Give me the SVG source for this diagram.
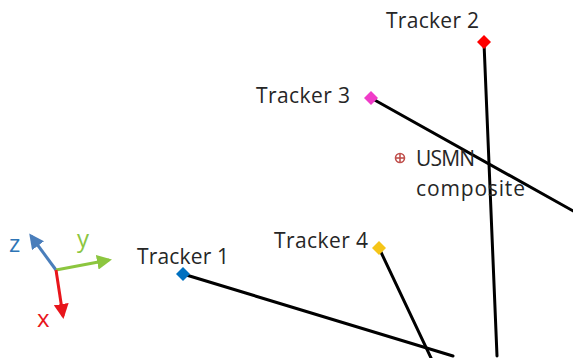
<svg xmlns="http://www.w3.org/2000/svg" width="573" height="358" viewBox="0 0 573 358">
  <style>
    .lbl { font-family: "Open Sans", "DejaVu Sans", "Liberation Sans", sans-serif; font-size: 21px; fill: #262626; }
    .ray { stroke: #000; stroke-width: 3; fill: none; stroke-linecap: round; }
    .axl { font-family: "Open Sans", "Liberation Sans", "DejaVu Sans", sans-serif; font-size: 24px; }
  </style>
  <defs>
    <marker id="ahBlue" viewBox="0 0 10 10" refX="8" refY="5" markerWidth="5" markerHeight="5" orient="auto">
      <path d="M0,0 L10,5 L0,10 Z" fill="#4a7ebb"/>
    </marker>
    <marker id="ahGreen" viewBox="0 0 10 10" refX="8" refY="5" markerWidth="5" markerHeight="5" orient="auto">
      <path d="M0,0 L10,5 L0,10 Z" fill="#8cc63f"/>
    </marker>
    <marker id="ahRed" viewBox="0 0 10 10" refX="8" refY="5" markerWidth="5" markerHeight="5" orient="auto">
      <path d="M0,0 L10,5 L0,10 Z" fill="#e8151b"/>
    </marker>
  </defs>
  <rect width="573" height="358" fill="#fff"/>

  <!-- coordinate frame -->
  <g id="axes">
    <line x1="56" y1="270" x2="31" y2="236" stroke="#4a7ebb" stroke-width="3" marker-end="url(#ahBlue)"/>
    <line x1="56" y1="270" x2="109" y2="260" stroke="#8cc63f" stroke-width="3" marker-end="url(#ahGreen)"/>
    <line x1="56" y1="270" x2="63" y2="316" stroke="#e8151b" stroke-width="3" marker-end="url(#ahRed)"/>
    <text class="axl" x="9" y="252" fill="#2e75b6">z</text>
    <text class="axl" x="77" y="247" fill="#8cc63f">y</text>
    <text class="axl" x="37" y="327" fill="#e8151b">x</text>
  </g>

  <!-- sight lines -->
  <g id="connectors">
    <line class="ray" x1="183" y1="274" x2="453" y2="356"/>
    <line class="ray" x1="484" y1="43" x2="497" y2="356"/>
    <line class="ray" x1="371" y1="98" x2="575" y2="212"/>
    <line class="ray" x1="379" y1="248" x2="432" y2="360"/>
  </g>

  <g id="tracker1">
    <path d="M183,267 L190,274 L183,281 L176,274 Z" fill="#0070c0"/>
    <text class="lbl" x="137" y="264" textLength="92">Tracker 1</text>
  </g>
  <g id="tracker2">
    <path d="M484,35 L491,42 L484,49 L477,42 Z" fill="#ff0000"/>
    <text class="lbl" x="386" y="28" textLength="93">Tracker 2</text>
  </g>
  <g id="tracker3">
    <path d="M371,91 L378,98 L371,105 L364,98 Z" fill="#f03cc8"/>
    <text class="lbl" x="256" y="103" textLength="94">Tracker 3</text>
  </g>
  <g id="tracker4">
    <path d="M379,241 L386,248 L379,255 L372,248 Z" fill="#f5c518"/>
    <text class="lbl" x="274" y="248" textLength="94">Tracker 4</text>
  </g>
  <g id="usmn">
    <circle cx="400" cy="158" r="4.5" fill="none" stroke="#c0504d" stroke-width="1.6"/>
    <line x1="395.5" y1="158" x2="404.5" y2="158" stroke="#c0504d" stroke-width="1.6"/>
    <line x1="400" y1="153.5" x2="400" y2="162.5" stroke="#c0504d" stroke-width="1.6"/>
    <text class="lbl" x="416" y="166" textLength="59">USMN</text>
    <text class="lbl" x="416" y="196" textLength="109">composite</text>
  </g>
</svg>
